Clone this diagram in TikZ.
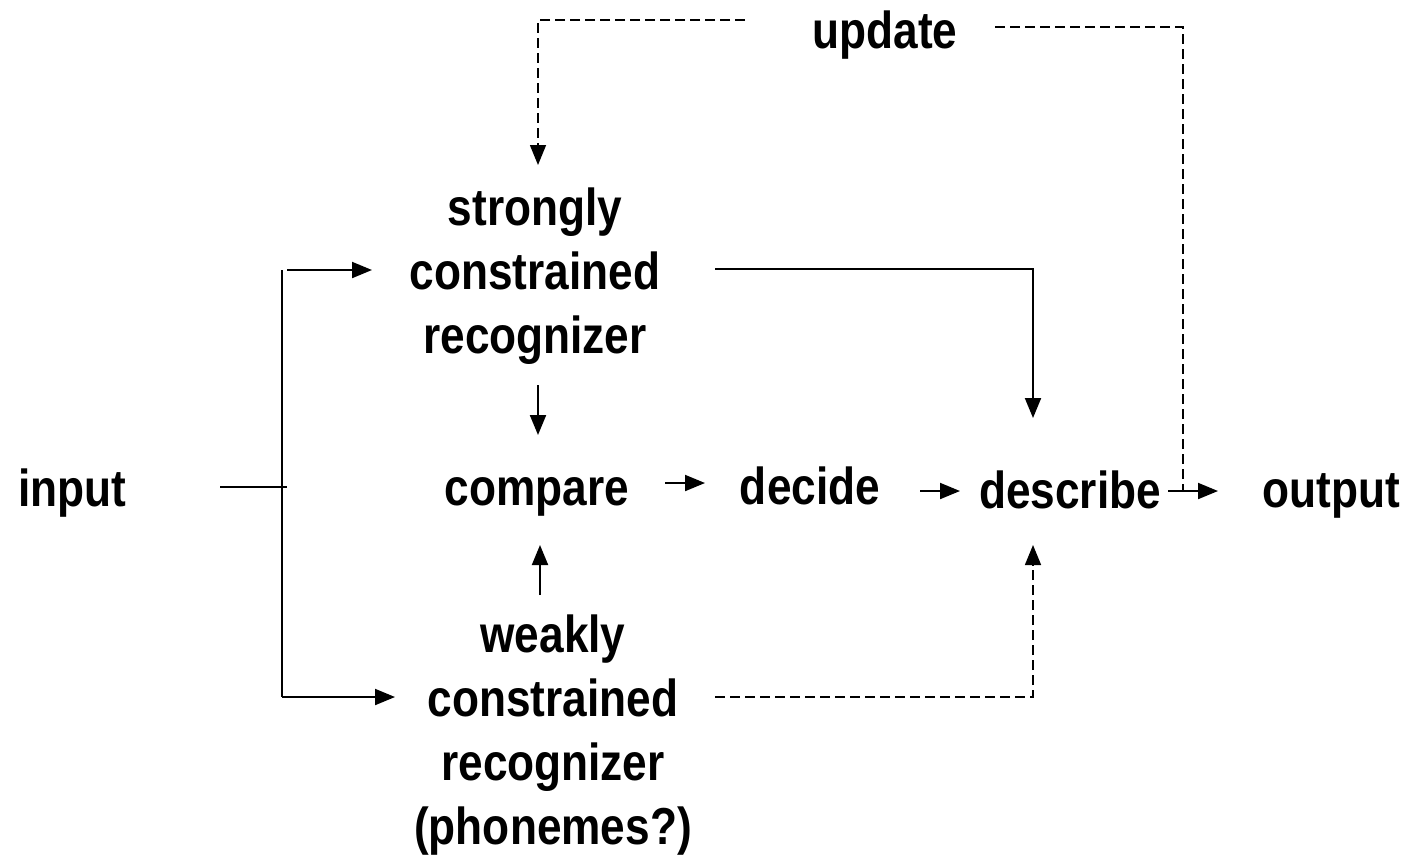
\documentclass[tikz,border=0pt]{standalone}
\usepackage{fontspec}
\setmainfont{Liberation Sans}[FakeStretch=0.85]
\usetikzlibrary{arrows.meta}
\begin{document}
\begin{tikzpicture}[x=0.5pt,y=-0.5pt,
  lbl/.style={font=\fontsize{26}{32}\selectfont\bfseries, align=center, inner sep=0pt},
  ln/.style={line width=1pt},
  arr/.style={ln, -{Triangle[length=10pt,width=8pt]}},
  dsh/.style={line width=0.75pt, dash pattern=on 5pt off 2.5pt},
  darr/.style={dsh, -{Triangle[length=10pt,width=8pt]}}]
\useasboundingbox (0,0) rectangle (1413,859);
% nodes
\node[lbl] (update) at (885,35) {update};
\node[lbl] (strong) at (535,276) {strongly\\constrained\\recognizer};
\node[lbl] (compare) at (537,497) {compare};
\node[lbl] (decide) at (810,486) {decide};
\node[lbl] (describe) at (1070,490) {describe};
\node[lbl] (output) at (1331,496) {output};
\node[lbl] (input) at (72,493) {input};
\node[lbl] (weak) at (553,735) {weakly\\constrained\\recognizer\\(phonemes?)};
% coordinates
\coordinate (inA) at (220,487);
\coordinate (inB) at (287,487);
\coordinate (busT) at (282,270);
\coordinate (busB) at (282,697);
\coordinate (sIn0) at (287,270);
\coordinate (sIn1) at (372,270);
\coordinate (wIn1) at (395,697);
\coordinate (sOut) at (715,269);
\coordinate (dTop) at (1033,418);
\coordinate (sDown0) at (538,385);
\coordinate (sDown1) at (538,435);
\coordinate (wUp0) at (540,595);
\coordinate (wUp1) at (540,545);
\coordinate (cd0) at (665,483);
\coordinate (cd1) at (705,483);
\coordinate (dd0) at (920,491);
\coordinate (dd1) at (960,491);
\coordinate (do0) at (1168,491);
\coordinate (do1) at (1218,491);
\coordinate (wOut) at (715,697);
\coordinate (dBot) at (1033,545);
\coordinate (uL) at (745,20);
\coordinate (uLend) at (538,165);
\coordinate (uR) at (995,27);
\coordinate (uRend) at (1183,491);
% connectors
\draw[ln] (inA) -- (inB);
\draw[ln] (busT) -- (busB);
\draw[arr] (sIn0) -- (sIn1);
\draw[arr] (busB) -- (wIn1);
\draw[arr] (sOut) -| (dTop);
\draw[arr] (sDown0) -- (sDown1);
\draw[arr] (wUp0) -- (wUp1);
\draw[arr] (cd0) -- (cd1);
\draw[arr] (dd0) -- (dd1);
\draw[arr] (do0) -- (do1);
\draw[darr] (wOut) -| (dBot);
\draw[darr] (uL) -| (uLend);
\draw[dsh] (uR) -| (uRend);
\end{tikzpicture}
\end{document}
